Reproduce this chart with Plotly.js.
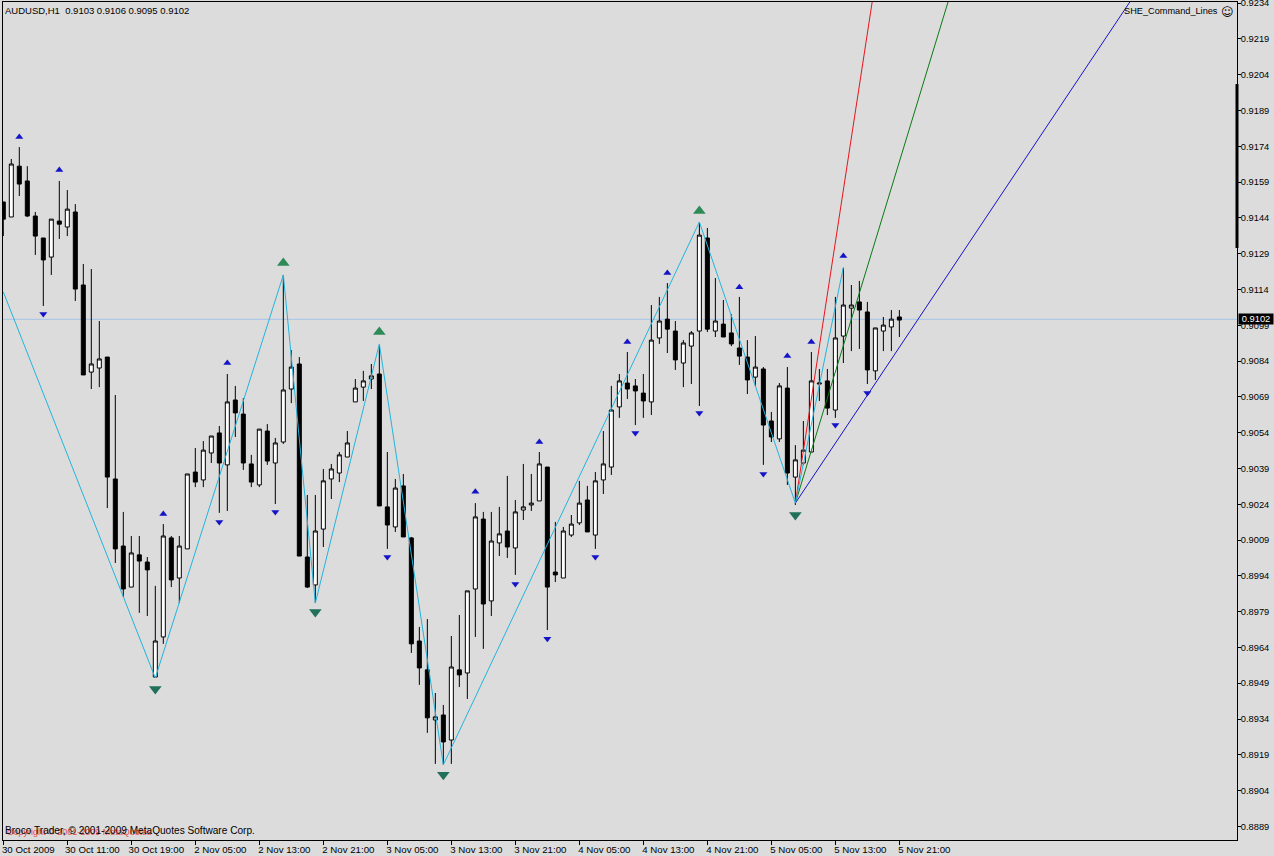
<!DOCTYPE html>
<html>
<head>
<meta charset="utf-8">
<script src="https://cdn.plot.ly/plotly-3.0.1.min.js"></script>
<style>html,body{margin:0;padding:0;background:#dcdcdc;overflow:hidden}#chart{width:1274px;height:856px}</style>
</head>
<body>
<div id="chart"></div>
<script>
// AUDUSD H1 prices, in points (price x 100000), one value per hourly bar
const openPts = [91507,91444,91657,91595,91448,91356,91276,91427,91402,91465,91159,90794,90811,90857,90346,90065,89893,90028,89998,89516,89684,90099,89931,90053,90375,90342,90455,90539,90405,90677,90618,90409,90321,90547,90413,90501,90723,90828,90019,89902,90136,90346,90371,90438,90669,90731,90765,90786,90229,90145,90317,90099,89667,89546,89336,89357,89252,89546,89533,89885,90178,89835,90078,90128,90057,90216,90237,90254,90396,89956,89931,90111,90162,90258,90111,90342,90396,90648,90748,90736,90706,90669,90937,91016,90966,90832,90903,90966,91356,90966,90995,90958,90895,90857,90773,90807,90589,90514,90727,90354,90413,90459,90744,90757,90635,90945,91062,91088,91046,90799,90966,90983,91025];
const highPts = [91507,91687,91737,91657,91465,91356,91435,91595,91557,91498,91247,91226,91008,90857,90698,90208,90107,90107,90019,89898,90157,90107,90107,90367,90476,90505,90526,90568,90786,90736,90685,90447,90555,90576,90518,91201,90886,90857,90279,90279,90388,90409,90459,90547,90765,90799,90828,90907,90459,90346,90367,90103,89726,89759,89449,89399,89688,89776,89877,90245,90208,90208,90229,90359,90258,90409,90367,90459,90396,90166,90145,90195,90338,90317,90375,90547,90736,90786,90878,90765,90786,91075,91109,91167,91008,90928,90966,91423,91398,91188,91096,91037,91109,90928,90945,90815,90627,90748,90815,90488,90589,90878,90807,90807,91109,91230,91159,91176,91088,90979,91025,91054,91054];
const lowPts = [91364,91444,91532,91444,91285,91071,91201,91352,91364,91092,90782,90723,90731,90224,89994,89852,89893,89785,89772,89512,89655,89893,89826,90053,90312,90312,90413,90204,90212,90522,90384,90312,90312,90405,90241,90493,90664,90023,89889,89826,90061,90262,90333,90438,90669,90673,90723,90233,90053,90124,90103,89617,89483,89282,89152,89148,89152,89474,89424,89684,89634,89772,90023,90015,89944,90174,90212,90254,89713,89914,89931,90103,90153,90124,90053,90283,90363,90602,90681,90572,90602,90614,90912,90874,90803,90731,90744,90652,90962,90941,90941,90903,90824,90702,90736,90405,90501,90501,90321,90237,90405,90459,90673,90614,90602,90832,90882,90891,90744,90761,90882,90882,90941];
const closePts = [91435,91666,91582,91448,91364,91264,91435,91414,91477,91142,90782,90828,90849,90354,90053,89885,90036,90002,89965,89667,90107,89923,90065,90367,90333,90467,90526,90413,90669,90623,90413,90333,90555,90421,90497,90719,90815,90023,89893,90128,90338,90388,90447,90497,90727,90757,90778,90233,90153,90308,90103,89655,89554,89345,89349,89244,89558,89525,89877,90187,89822,90086,90116,90061,90208,90229,90245,90409,89893,89944,90128,90157,90245,90124,90338,90409,90635,90757,90723,90715,90673,90928,91008,90974,90845,90916,90958,91368,90974,91008,90941,90912,90861,90761,90815,90572,90522,90736,90371,90426,90467,90757,90748,90643,90937,91075,91075,91054,90803,90979,90991,91016,91012];

// ZigZag pivots (bar number, price in points)
const zigzagBars = [0,19,35,39,47,55,87,99,105];
const zigzagPts = [91130,89512,91201,89826,90912,89148,91423,90245,91234];

// Command lines drawn from the last low
const redBars = [99,108.76];    const redPts = [90245,92380];
const greenBars = [99,118.4];   const greenPts = [90245,92380];
const blueBars = [99,141.5];    const bluePts = [90245,92380];

// Small blue fractal arrows
const upArrowBars = [2,7,20,28,59,67,78,83,92,98,101,105];
const upArrowPts = [91779,91641,90199,90832,90292,90501,90920,91209,91150,90861,90920,91280];
const downArrowBars = [5,27,34,48,64,68,74,79,87,95,104,108];
const downArrowPts = [91037,90166,90208,90019,89906,89676,90019,90539,90623,90367,90572,90706];

// Larger green pivot arrows
const greenUpBars = [35,47,87];
const greenUpPts = [91251,90962,91469];
const greenDownBars = [19,39,55,99];
const greenDownPts = [89466,89789,89106,90195];

// Current price line, thick scale marker
const bidPts = 91015;
const scaleMarkPts = [92001,91314];

// Axis labels
const xTickBars = [0,8,16,24,32,40,48,56,64,72,80,88,96,104,112];
const xTickLabels = ['30 Oct 2009','30 Oct 11:00','30 Oct 19:00','2 Nov 05:00','2 Nov 13:00','2 Nov 21:00','3 Nov 05:00','3 Nov 13:00','3 Nov 21:00','4 Nov 05:00','4 Nov 13:00','4 Nov 21:00','5 Nov 05:00','5 Nov 13:00','5 Nov 21:00'];
const yTickLabels = ['0.9234','0.9219','0.9204','0.9189','0.9174','0.9159','0.9144','0.9129','0.9114','0.9099','0.9084','0.9069','0.9054','0.9039','0.9024','0.9009','0.8994','0.8979','0.8964','0.8949','0.8934','0.8919','0.8904','0.8889'];

const toPrice = a => a.map(v => v / 100000);
const bars = openPts.map((_, i) => i);
const FONT = 'Liberation Sans, Arial, sans-serif';
const BG = '#dcdcdc';

function lineTrace(x, y, color) {
  return {type:'scatter', mode:'lines', x:x, y:toPrice(y), line:{color:color, width:1}, hoverinfo:'skip', showlegend:false};
}
function markTrace(x, y, color, size, sym) {
  return {type:'scatter', mode:'markers', x:x, y:toPrice(y), marker:{color:color, size:size, symbol:sym, line:{width:0}}, hoverinfo:'skip', showlegend:false};
}

const traces = [
  {type:'candlestick', x:bars, open:toPrice(openPts), high:toPrice(highPts), low:toPrice(lowPts), close:toPrice(closePts),
   increasing:{line:{color:'#000000', width:1}, fillcolor:'#ffffff'},
   decreasing:{line:{color:'#000000', width:1}, fillcolor:'#000000'},
   whiskerwidth:0, hoverinfo:'skip', showlegend:false},
  lineTrace(redBars, redPts, '#e8141c'),
  lineTrace(greenBars, greenPts, '#0a7a14'),
  lineTrace(blueBars, bluePts, '#1414c8'),
  lineTrace(zigzagBars, zigzagPts, '#22b4dc'),
  markTrace(upArrowBars, upArrowPts, '#1414c8', 7, 'triangle-up'),
  markTrace(downArrowBars, downArrowPts, '#1414c8', 7, 'triangle-down'),
  markTrace(greenUpBars, greenUpPts, '#2e8b57', 11, 'triangle-up'),
  markTrace(greenDownBars, greenDownPts, '#20705a', 11, 'triangle-down')
];

const layout = {
  width:1274, height:856, autosize:false,
  paper_bgcolor:BG, plot_bgcolor:BG,
  margin:{l:3, r:37, t:2, b:16, pad:0},
  showlegend:false,
  boxgap:0.5, boxgroupgap:0,
  font:{family:FONT, size:10, color:'#000000'},
  xaxis:{type:'linear', range:[-0.0375,154.2], rangeslider:{visible:false}, fixedrange:true,
    tickmode:'array', tickvals:xTickBars, ticktext:xTickLabels, ticks:'outside', ticklen:4, tickwidth:1, tickcolor:'#000',
    ticklabelshift:25, ticklabelstandoff:-4, tickangle:0, ticklabeloverflow:'allow',
    showgrid:false, zeroline:false, showline:true, linecolor:'#000', linewidth:1, mirror:true,
    tickfont:{family:FONT, size:9.7, color:'#000'}},
  yaxis:{type:'linear', side:'right', range:[0.88833,0.92345], fixedrange:true,
    tickmode:'array', tickvals:yTickLabels.map(Number), ticktext:yTickLabels, ticks:'outside', ticklen:3, tickwidth:1, tickcolor:'#000',
    ticklabelstandoff:-2, ticklabeloverflow:'allow',
    showgrid:false, zeroline:false, showline:true, linecolor:'#000', linewidth:1, mirror:true,
    tickfont:{family:FONT, size:9.3, color:'#000'}},
  shapes:[
    {type:'line', layer:'below', xref:'paper', x0:0, x1:1, yref:'y', y0:bidPts/100000, y1:bidPts/100000, line:{color:'#a6c4ea', width:1}},
    {type:'line', layer:'above', xref:'paper', x0:1, x1:1, yref:'y', y0:scaleMarkPts[0]/100000, y1:scaleMarkPts[1]/100000, line:{color:'#000', width:3}}
  ],
  annotations:[
    {xref:'paper', yref:'paper', x:0, y:0.9991, xanchor:'left', yanchor:'top', showarrow:false, align:'left',
     text:'AUDUSD,H1&#160;&#160;0.9103 0.9106 0.9095 0.9102', font:{family:FONT, size:9.5, color:'#000'}},
    {xref:'paper', yref:'paper', x:0.986, y:0.9973, xanchor:'right', yanchor:'top', showarrow:false,
     text:'SHE_Command_Lines', font:{family:FONT, size:9.2, color:'#000'}},
    {xref:'paper', yref:'paper', x:0.9990, y:0.9992, xanchor:'right', yanchor:'top', showarrow:false,
     text:'\u263A', font:{family:'DejaVu Sans', size:12, color:'#000'}},
    {xref:'paper', yref:'paper', x:0.0020, y:0.0006, xanchor:'left', yanchor:'bottom', showarrow:false,
     text:'Copyright \u00A9 2001-2009 MetaQuotes', font:{family:FONT, size:9, color:'#e05050'}},
    {xref:'paper', yref:'paper', x:0, y:0.0023, xanchor:'left', yanchor:'bottom', showarrow:false,
     text:'Broco Trader, \u00A9 2001-2009 MetaQuotes Software Corp.', font:{family:FONT, size:10.1, color:'#000'}},
    {xref:'paper', x:1.001, xanchor:'left', yref:'y', y:bidPts/100000, yanchor:'middle', showarrow:false,
     text:'0.9102', bgcolor:'#000000', borderpad:0, width:34, height:10, align:'center', font:{family:FONT, size:9.3, color:'#ffffff'}}
  ]
};

Plotly.newPlot('chart', traces, layout, {staticPlot:true, displayModeBar:false});
</script>
</body>
</html>
